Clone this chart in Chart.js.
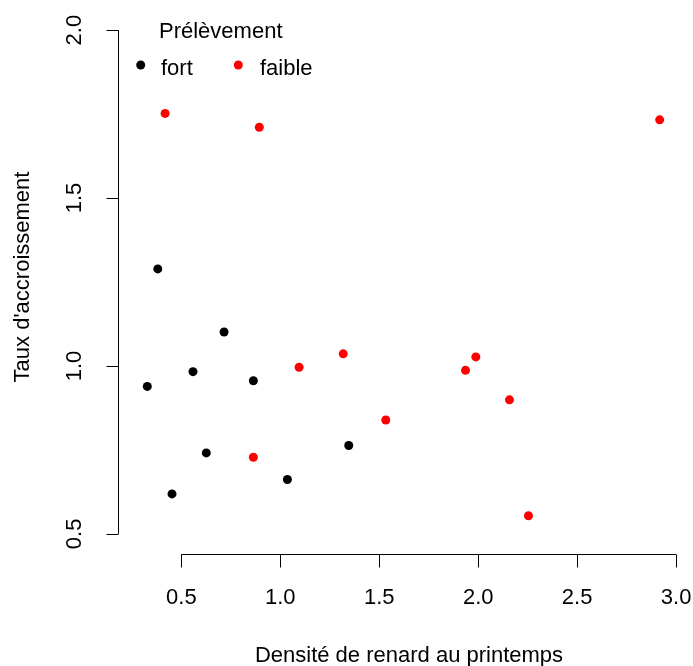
<!DOCTYPE html>
<html>
<head>
<meta charset="utf-8">
<script src="https://cdn.jsdelivr.net/npm/chart.js@4"></script>
<style>
  body { margin: 0; background: #fff; }
  canvas { display: block; }
</style>
</head>
<body>
<canvas id="chart" width="693" height="666"></canvas>
<script>
// données
const fortX = [0.328, 0.381, 0.453, 0.559, 0.626, 0.716, 0.864, 1.036, 1.346]
const fortY = [0.939, 1.289, 0.619, 0.983, 0.741, 1.101, 0.956, 0.662, 0.763]
const faibleX = [0.418, 0.894, 0.864, 1.095, 1.318, 1.533, 1.936, 1.988, 2.158, 2.254, 2.917]
const faibleY = [1.752, 1.711, 0.728, 0.996, 1.036, 0.839, 0.987, 1.027, 0.899, 0.554, 1.733]
const xTicks = [0.5, 1.0, 1.5, 2.0, 2.5, 3.0]
const yTicks = [0.5, 1.0, 1.5, 2.0]

const FONT = '22px "Liberation Sans", Arial, sans-serif'

// axes façon R : trait seulement entre le premier et le dernier tick
const rAxes = {
    id: 'rAxes',
    afterDraw(chart) {
        const ctx = chart.ctx
        const xs = chart.scales.x
        const ys = chart.scales.y
        const area = chart.chartArea
        ctx.save()
        ctx.strokeStyle = '#000'
        ctx.fillStyle = '#000'
        ctx.lineWidth = 1
        ctx.font = FONT

        // axe x
        const yAxis = Math.round(area.bottom) + 0.5
        ctx.beginPath()
        ctx.moveTo(xs.getPixelForValue(xTicks[0]), yAxis)
        ctx.lineTo(xs.getPixelForValue(xTicks[xTicks.length - 1]), yAxis)
        xTicks.forEach(t => {
            const px = Math.round(xs.getPixelForValue(t)) + 0.5
            ctx.moveTo(px, yAxis)
            ctx.lineTo(px, yAxis + 13)
        })
        ctx.stroke()
        ctx.textAlign = 'center'
        ctx.textBaseline = 'alphabetic'
        xTicks.forEach(t => {
            ctx.fillText(t.toFixed(1), xs.getPixelForValue(t), 604)
        })

        // axe y
        const xAxis = Math.round(area.left) + 0.5
        ctx.beginPath()
        ctx.moveTo(xAxis, ys.getPixelForValue(yTicks[0]))
        ctx.lineTo(xAxis, ys.getPixelForValue(yTicks[yTicks.length - 1]))
        yTicks.forEach(t => {
            const py = Math.round(ys.getPixelForValue(t)) + 0.5
            ctx.moveTo(xAxis, py)
            ctx.lineTo(xAxis - 12, py)
        })
        ctx.stroke()
        yTicks.forEach(t => {
            ctx.save()
            ctx.translate(81, ys.getPixelForValue(t))
            ctx.rotate(-Math.PI / 2)
            ctx.textAlign = 'center'
            ctx.textBaseline = 'alphabetic'
            ctx.fillText(t.toFixed(1), 0, 0)
            ctx.restore()
        })

        // titres des axes
        ctx.textAlign = 'center'
        ctx.fillText('Densité de renard au printemps', 409, 662)
        ctx.save()
        ctx.translate(29, 277)
        ctx.rotate(-Math.PI / 2)
        ctx.fillText("Taux d'accroissement", 0, 0)
        ctx.restore()

        // légende
        ctx.textAlign = 'left'
        ctx.fillText('Prélèvement', 159, 38)
        ctx.fillText('fort', 161, 75)
        ctx.fillText('faible', 260, 75)
        ctx.beginPath()
        ctx.arc(140.7, 65, 4.5, 0, Math.PI * 2)
        ctx.fillStyle = '#000'
        ctx.fill()
        ctx.beginPath()
        ctx.arc(238.3, 65, 4.5, 0, Math.PI * 2)
        ctx.fillStyle = '#ff0000'
        ctx.fill()
        ctx.restore()
    }
}

new Chart(document.getElementById('chart'), {
    type: 'scatter',
    data: {
        datasets: [
            {
                label: 'fort',
                data: fortX.map((x, i) => ({ x: x, y: fortY[i] })),
                backgroundColor: '#000',
                borderWidth: 0,
                pointRadius: 4.5
            },
            {
                label: 'faible',
                data: faibleX.map((x, i) => ({ x: x, y: faibleY[i] })),
                backgroundColor: '#ff0000',
                borderWidth: 0,
                pointRadius: 4.5
            }
        ]
    },
    options: {
        responsive: false,
        animation: false,
        layout: { padding: { left: 118, top: 10, right: 7, bottom: 112 } },
        plugins: {
            legend: { display: false },
            tooltip: { enabled: false }
        },
        scales: {
            x: { type: 'linear', min: 0.18, max: 3.05, display: false },
            y: { type: 'linear', min: 0.44, max: 2.06, display: false }
        }
    },
    plugins: [rAxes]
})
</script>
</body>
</html>
